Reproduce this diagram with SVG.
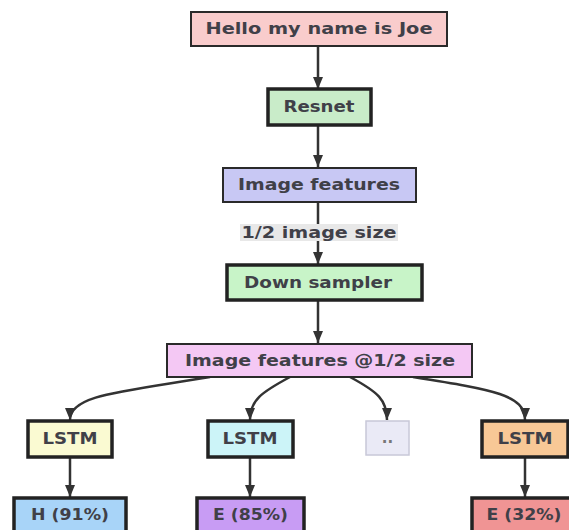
<svg xmlns="http://www.w3.org/2000/svg" width="569" height="530" viewBox="0 0 569 530">
<defs>
<style>
.t{font-family:"DejaVu Sans",Verdana,sans-serif;font-size:15px;font-weight:bold;fill:#404048;text-anchor:middle;dominant-baseline:central}
.thin{stroke:#2a2a2a;stroke-width:2}
.thick{stroke:#222;stroke-width:3.5}
.e{fill:none;stroke:#333;stroke-width:2.5}
</style>
<marker id="ah" viewBox="0 0 12 10" refX="12" refY="5" markerWidth="13" markerHeight="10" markerUnits="userSpaceOnUse" orient="auto">
<path d="M0,0 L12,5 L0,10 z" fill="#333"/>
</marker>
</defs>
<rect width="569" height="530" fill="#fff"/>
<g id="connectors">
<path class="e" d="M318,46 L318,89" marker-end="url(#ah)"/>
<path class="e" d="M318,125 L318,167" marker-end="url(#ah)"/>
<path class="e" d="M318,202 L318,264" marker-end="url(#ah)"/>
<path class="e" d="M318,300 L318,343" marker-end="url(#ah)"/>
<path class="e" d="M210,377 C120,392 70,395 70,420" marker-end="url(#ah)"/>
<path class="e" d="M290,377 C262,392 250,400 250,420" marker-end="url(#ah)"/>
<path class="e" d="M350,377 C378,392 387,400 387,420" marker-end="url(#ah)"/>
<path class="e" d="M413,377 C495,390 525,395 525,420" marker-end="url(#ah)"/>
<path class="e" d="M70,457 L70,497" marker-end="url(#ah)"/>
<path class="e" d="M250,457 L250,497" marker-end="url(#ah)"/>
<path class="e" d="M525,457 L525,497" marker-end="url(#ah)"/>
<rect x="240" y="224" width="158" height="17" fill="#e8e8e8"/>
<text class="t" x="319" y="232.5" textLength="155" lengthAdjust="spacingAndGlyphs">1/2 image size</text>
</g>
<g id="n-hello">
<rect class="thin" x="191" y="12" width="256" height="34" fill="#f9cccc"/>
<text class="t" x="319" y="29" textLength="227" lengthAdjust="spacingAndGlyphs">Hello my name is Joe</text>
</g>
<g id="n-resnet">
<rect class="thick" x="268" y="89" width="103" height="36" fill="#c9ecc9"/>
<text class="t" x="319" y="107" textLength="71" lengthAdjust="spacingAndGlyphs">Resnet</text>
</g>
<g id="n-imgfeat">
<rect class="thin" x="223" y="168" width="193" height="34" fill="#c8c8f4"/>
<text class="t" x="319" y="185" textLength="162" lengthAdjust="spacingAndGlyphs">Image features</text>
</g>
<g id="n-down">
<rect class="thick" x="227" y="265" width="195" height="35" fill="#c8f4c8"/>
<text class="t" x="318" y="282.5" textLength="148" lengthAdjust="spacingAndGlyphs">Down sampler</text>
</g>
<g id="n-imghalf">
<rect class="thin" x="167" y="344" width="305" height="33" fill="#f4c8f4"/>
<text class="t" x="320" y="360.5" textLength="270" lengthAdjust="spacingAndGlyphs">Image features @1/2 size</text>
</g>
<g id="n-lstm1">
<rect class="thick" x="28" y="421" width="84" height="36" fill="#fafad2"/>
<text class="t" x="70" y="439" textLength="55" lengthAdjust="spacingAndGlyphs">LSTM</text>
</g>
<g id="n-lstm2">
<rect class="thick" x="208" y="421" width="85" height="36" fill="#ccf4f8"/>
<text class="t" x="250" y="439" textLength="55" lengthAdjust="spacingAndGlyphs">LSTM</text>
</g>
<g id="n-dots">
<rect x="366" y="421" width="43" height="34" fill="#eaeaf6" stroke="#c8c8d8" stroke-width="1.5"/>
<text class="t" x="387.5" y="438" style="fill:#777">..</text>
</g>
<g id="n-lstm3">
<rect class="thick" x="482" y="421" width="86" height="36" fill="#f8c896"/>
<text class="t" x="525" y="439" textLength="55" lengthAdjust="spacingAndGlyphs">LSTM</text>
</g>
<g id="n-h">
<rect class="thick" x="14" y="498" width="112" height="40" fill="#a8d4f8"/>
<text class="t" x="70" y="515" textLength="78" lengthAdjust="spacingAndGlyphs">H (91%)</text>
</g>
<g id="n-e85">
<rect class="thick" x="197" y="498" width="107" height="40" fill="#c89cf4"/>
<text class="t" x="250.5" y="515" textLength="75" lengthAdjust="spacingAndGlyphs">E (85%)</text>
</g>
<g id="n-e32">
<rect class="thick" x="472" y="498" width="107" height="40" fill="#f09494"/>
<text class="t" x="524" y="515" textLength="75" lengthAdjust="spacingAndGlyphs">E (32%)</text>
</g>
</svg>
